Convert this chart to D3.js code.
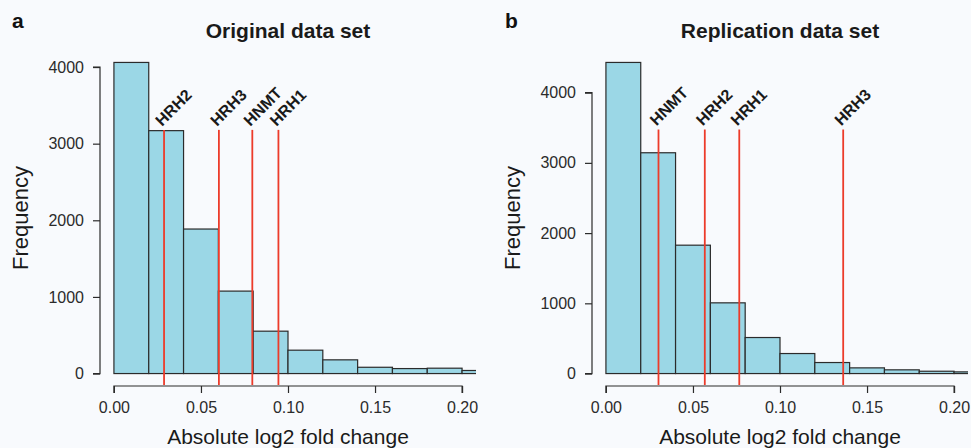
<!DOCTYPE html>
<meta charset="utf-8">
<title>Fold change histograms</title>
<script src="https://d3js.org/d3.v7.min.js"></script>
<style>
  body { margin: 0; background: #f8fafd; }
  svg { display: block; font-family: "Liberation Sans", Arial, sans-serif; }
</style>
<body>
<svg width="971" height="448"></svg>
<script>

  // histogram bins (width 0.02), last bin is cut by the plot edge
  const binEdges = [0, 0.02, 0.04, 0.06, 0.08, 0.10, 0.12, 0.14, 0.16, 0.18, 0.20, 0.22]

  const origCounts = [4060, 3170, 1886, 1076, 553, 305, 179, 82, 65, 70, 40]
  const replCounts = [4430, 3144, 1828, 1007, 513, 285, 157, 81, 53, 33, 24]

  // gene markers
  const origGenes = ['HRH2', 'HRH3', 'HNMT', 'HRH1']
  const origGeneFC = [0.0288, 0.0603, 0.0795, 0.0945]
  const replGenes = ['HNMT', 'HRH2', 'HRH1', 'HRH3']
  const replGeneFC = [0.0302, 0.0568, 0.0766, 0.1363]

  // how high the marker lines reach, in frequency units
  const origMarkTop = 3180
  const replMarkTop = 3475

  const xTicks = [0, 0.05, 0.10, 0.15, 0.20]
  const yTicks = [0, 1000, 2000, 3000, 4000]

  const panels = [
    { tag: 'a', title: 'Original data set', counts: origCounts, genes: origGenes, fc: origGeneFC, markTop: origMarkTop, left: 100 },
    { tag: 'b', title: 'Replication data set', counts: replCounts, genes: replGenes, fc: replGeneFC, markTop: replMarkTop, left: 592 }
  ]

  const svg = d3.select('svg'),
        plotW = 376,
        plotTop = 50,
        plotBottom = 386,
        barFill = '#9bd7e6',
        ink = '#2b2b2b',
        red = '#ec3b2a'

  panels.forEach((p, pi) => {
    const maxY = d3.max(p.counts)
    // R style 4% padding on both axes
    const x = d3.scaleLinear().domain([0 - 0.2 * 0.04, 0.2 + 0.2 * 0.04]).range([p.left, p.left + plotW])
    const y = d3.scaleLinear().domain([-maxY * 0.04, maxY * 1.04]).range([plotBottom, plotTop])

    const g = svg.append('g')

    const clipId = 'clip' + pi
    svg.append('clipPath').attr('id', clipId)
      .append('rect')
      .attr('x', p.left).attr('y', plotTop)
      .attr('width', plotW).attr('height', plotBottom - plotTop)

    const bins = p.counts.map((c, i) => ({ x0: binEdges[i], x1: binEdges[i + 1], n: c }))

    g.append('g').attr('clip-path', `url(#${clipId})`)
      .selectAll('rect')
      .data(bins)
      .join('rect')
      .attr('x', d => x(d.x0))
      .attr('y', d => y(d.n))
      .attr('width', d => x(d.x1) - x(d.x0))
      .attr('height', d => y(0) - y(d.n))
      .attr('fill', barFill)
      .attr('stroke', ink)
      .attr('stroke-width', 1.2)

    // marker lines
    g.selectAll('line.mark')
      .data(p.fc)
      .join('line')
      .attr('class', 'mark')
      .attr('x1', d => x(d)).attr('x2', d => x(d))
      .attr('y1', y(p.markTop)).attr('y2', plotBottom - 1)
      .attr('stroke', red)
      .attr('stroke-width', 1.8)

    g.selectAll('text.gene')
      .data(p.fc)
      .join('text')
      .attr('class', 'gene')
      .attr('transform', d => `translate(${x(d) - 2},${y(p.markTop) - 3}) rotate(-45)`)
      .attr('font-size', 16)
      .attr('font-weight', 'bold')
      .attr('fill', '#1a1a1a')
      .text((d, i) => p.genes[i])

    // axes
    const xAxis = d3.axisBottom(x)
      .tickValues(xTicks)
      .tickFormat(d3.format('.2f'))
      .tickSize(7)
      .tickPadding(9)
    const xg = g.append('g').attr('transform', `translate(0,${plotBottom})`).call(xAxis)
    xg.select('.domain').attr('d', `M${x(0)},7V0H${x(0.2)}V7`)

    const yAxis = d3.axisLeft(y)
      .tickValues(yTicks)
      .tickFormat(d3.format('d'))
      .tickSize(7)
      .tickPadding(9)
    const yg = g.append('g').attr('transform', `translate(${p.left},0)`).call(yAxis)
    yg.select('.domain').attr('d', `M-7,${y(0)}H0V${y(4000)}H-7`)

    g.selectAll('.tick line, .domain').attr('stroke', ink).attr('stroke-width', 1.2)
    g.selectAll('.tick text')
      .attr('font-family', '"Liberation Sans", Arial, sans-serif')
      .attr('font-size', 16)
      .attr('fill', ink)

    // titles
    const cx = p.left + plotW / 2
    g.append('text')
      .attr('x', cx).attr('y', 38)
      .attr('text-anchor', 'middle')
      .attr('font-size', 21)
      .attr('font-weight', 'bold')
      .attr('fill', '#1a1a1a')
      .text(p.title)

    g.append('text')
      .attr('x', cx).attr('y', 444)
      .attr('text-anchor', 'middle')
      .attr('font-size', 21)
      .attr('fill', '#1a1a1a')
      .text('Absolute log2 fold change')

    g.append('text')
      .attr('transform', `translate(${p.left - 72},${(plotTop + plotBottom) / 2}) rotate(-90)`)
      .attr('text-anchor', 'middle')
      .attr('font-size', 22)
      .attr('fill', '#1a1a1a')
      .text('Frequency')

    g.append('text')
      .attr('x', pi === 0 ? 12 : 505)
      .attr('y', 28)
      .attr('font-size', 21)
      .attr('font-weight', 'bold')
      .attr('fill', '#111')
      .text(p.tag)
  })

</script>
</body>
